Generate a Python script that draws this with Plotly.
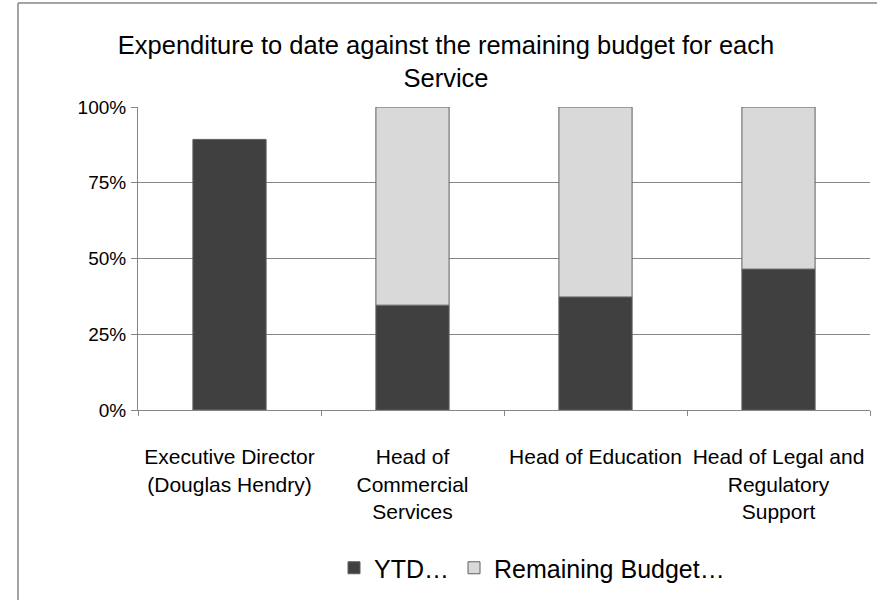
import plotly.graph_objects as go

# Share of each service's budget (100% stacked); a negative remaining
# share means the service has overspent its budget.
services = [
    "Executive Director<br>(Douglas Hendry)",
    "Head of<br>Commercial<br>Services",
    "Head of Education",
    "Head of Legal and<br>Regulatory<br>Support",
]
ytd_share = [0.893, 0.346, 0.373, 0.465]
remaining_share = [-0.107, 0.654, 0.627, 0.535]

series_names = ["YTD…", "Remaining Budget…"]
y_ticks = [0, 0.25, 0.5, 0.75, 1.0]

FONT = "Liberation Sans, Arial, sans-serif"
GRID = "#868686"
EDGE = "#5f5f5f"

fig = go.Figure()
fig.add_trace(go.Bar(
    x=services, y=ytd_share, name=series_names[0],
    marker=dict(color="#404040", line=dict(color=EDGE, width=1)),
))
fig.add_trace(go.Bar(
    x=services, y=remaining_share, name=series_names[1],
    marker=dict(color="#d9d9d9", line=dict(color=EDGE, width=1)),
))

fig.update_layout(
    width=877, height=600,
    margin=dict(l=138, r=7, t=107, b=190),
    paper_bgcolor="white", plot_bgcolor="white",
    barmode="relative", bargap=0.6,
    font=dict(family=FONT, color="black"),
    title=dict(
        text="Expenditure to date against the remaining budget for each<br>Service",
        x=446 / 877, xanchor="center",
        y=1 - 54 / 600, yanchor="middle", yref="container",
        font=dict(size=25.5, family=FONT, color="black"),
    ),
    legend=dict(
        orientation="h", x=(532 - 138) / 732, xanchor="center",
        y=(410 - 568) / 303, yanchor="middle",
        font=dict(size=25, family=FONT, color="black"),
        itemwidth=30, traceorder="normal",
    ),
    showlegend=True,
)

fig.update_xaxes(
    type="category", showline=True, linecolor=GRID, linewidth=1,
    ticks="outside", tickson="boundaries", ticklen=5, tickcolor=GRID,
    tickfont=dict(size=21, family=FONT, color="black"),
    ticklabelstandoff=28, showgrid=False, fixedrange=True,
)
fig.update_yaxes(
    range=[0, 1], tickvals=y_ticks, tickformat=".0%",
    showline=True, linecolor=GRID, linewidth=1,
    ticks="outside", ticklen=6, tickcolor=GRID,
    showgrid=True, gridcolor=GRID, gridwidth=1, zeroline=False,
    tickfont=dict(size=19, family=FONT, color="black"),
    ticklabelstandoff=1, fixedrange=True,
)

# Chart-area frame (left and top edges visible)
x_left = (18 - 138) / 732
y_top = (410 - 3) / 303
fig.add_shape(type="line", xref="paper", yref="paper",
              x0=x_left, x1=x_left, y0=y_top, y1=-0.8,
              line=dict(color=GRID, width=1.5))
fig.add_shape(type="line", xref="paper", yref="paper",
              x0=x_left, x1=1.05, y0=y_top, y1=y_top,
              line=dict(color=GRID, width=1.5))

fig.write_html("out.html")
